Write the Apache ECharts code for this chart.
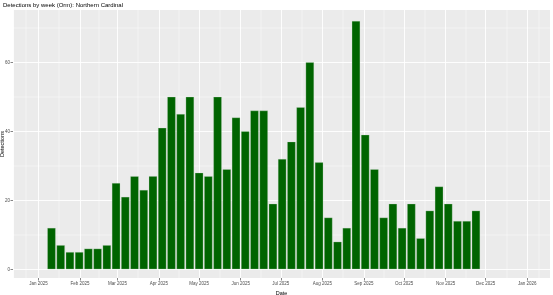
<!DOCTYPE html>
<html><head><meta charset="utf-8">
<script src="https://cdn.jsdelivr.net/npm/echarts@6/dist/echarts.min.js"></script>
<style>html,body{margin:0;padding:0;background:#fff}#c{width:553px;height:295px}</style>
</head><body><div id="c"></div>
<script>
const titleText = 'Detections by week (Orm): Northern Cardinal';
const weeks = ['2025-01-08','2025-01-15','2025-01-22','2025-01-29','2025-02-05','2025-02-12','2025-02-19','2025-02-26',
 '2025-03-05','2025-03-12','2025-03-19','2025-03-26','2025-04-02','2025-04-09','2025-04-16','2025-04-23','2025-04-30',
 '2025-05-07','2025-05-14','2025-05-21','2025-05-28','2025-06-04','2025-06-11','2025-06-18','2025-06-25',
 '2025-07-02','2025-07-09','2025-07-16','2025-07-23','2025-07-30','2025-08-06','2025-08-13','2025-08-20','2025-08-27',
 '2025-09-03','2025-09-10','2025-09-17','2025-09-24','2025-10-01','2025-10-08','2025-10-15','2025-10-22','2025-10-29',
 '2025-11-05','2025-11-12','2025-11-19','2025-11-26'];
const detections = [12,7,5,5,6,6,7,25,21,27,23,27,41,50,45,50,28,27,50,29,44,40,46,46,
 19,32,37,47,60,31,15,8,12,72,39,29,15,19,12,19,9,17,24,19,14,14,17];
const monthNames = ['Jan','Feb','Mar','Apr','May','Jun','Jul','Aug','Sep','Oct','Nov','Dec'];
const yTicks = [0,20,40,60];

const chart = echarts.init(document.getElementById('c'), null, {renderer:'canvas'});
const xMin = '2024-12-13', xMax = '2026-01-18';
const FONT = 'Liberation Sans, Arial, sans-serif';
const labelStyle = {fontSize:4.5, color:'#4D4D4D', fontFamily:FONT};
chart.setOption({
  animation:false,
  backgroundColor:'#ffffff',
  title:{text:titleText, left:3, top:2, padding:0, textStyle:{fontSize:6, fontWeight:'normal', color:'#000', fontFamily:FONT}},
  grid:[
    {left:13, right:3, top:10, bottom:17, show:true, backgroundColor:'#EBEBEB', borderWidth:0, outerBoundsMode:'none', containLabel:false},
    {left:13, right:3, top:-6.7, bottom:25.7, show:false, outerBoundsMode:'none', containLabel:false}
  ],
  xAxis:[
    {type:'time', gridIndex:0, min:xMin, max:xMax, minInterval:28*86400000, maxInterval:31*86400000,
     axisLine:{show:false}, axisTick:{show:true, length:2.5, lineStyle:{color:'#333', width:0.6}},
     splitLine:{show:true, lineStyle:{color:'#fff', width:0.9}},
     minorTick:{show:false, splitNumber:2}, minorSplitLine:{show:true, lineStyle:{color:'#fff', width:0.45}},
     axisLabel:Object.assign({margin:3, hideOverlap:false, formatter:function(v){const d=new Date(v);return monthNames[d.getMonth()]+' '+d.getFullYear();}}, labelStyle),
     name:'Date', nameLocation:'middle', nameGap:11, nameTextStyle:{fontSize:5.5, color:'#000', fontFamily:FONT}},
    {type:'time', gridIndex:1, min:xMin, max:xMax, show:false}
  ],
  yAxis:[
    {type:'value', gridIndex:0, min:0, max:1, axisLine:{show:false}, axisTick:{show:false}, axisLabel:{show:false}, splitLine:{show:false},
     name:'Detections', nameLocation:'middle', nameGap:8, nameRotate:90, nameTextStyle:{fontSize:5.5, color:'#000', fontFamily:FONT}},
    {type:'value', gridIndex:1, min:0, max:80, interval:20,
     axisLine:{show:false}, axisTick:{show:true, length:2.5, lineStyle:{color:'#333', width:0.6}},
     splitLine:{show:true, lineStyle:{color:'#fff', width:0.9}},
     minorTick:{show:false, splitNumber:2}, minorSplitLine:{show:true, lineStyle:{color:'#fff', width:0.45}},
     axisLabel:Object.assign({margin:3, hideOverlap:false, showMaxLabel:false, formatter:function(v){const r=Math.round(v);return yTicks.indexOf(r)>=0? String(r):'';}}, labelStyle)}
  ],
  series:[{
    type:'bar', xAxisIndex:1, yAxisIndex:1, barWidth:8.4,
    data:weeks.map((d,i)=>[d, detections[i]]),
    itemStyle:{color:'#006400', borderColor:'rgba(200,220,200,0.55)', borderWidth:0.5}
  }]
});
</script></body></html>
